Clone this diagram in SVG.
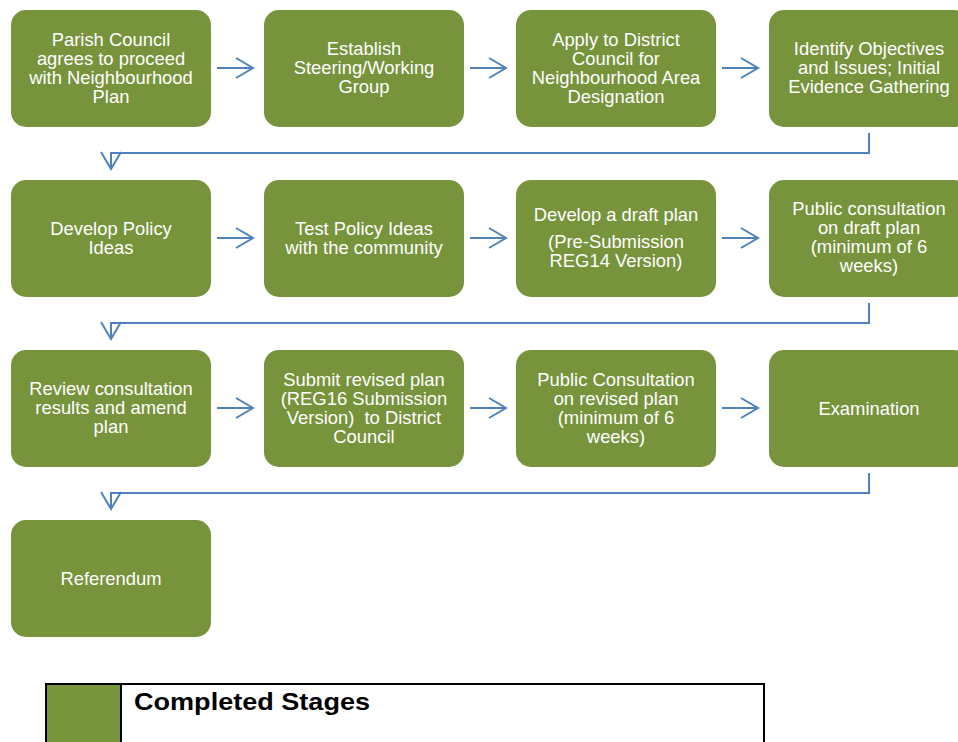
<svg xmlns="http://www.w3.org/2000/svg" width="958" height="742" viewBox="0 0 958 742">
<style>
.node rect{fill:#77933C;}
.node text{fill:#FFFFFF;font-family:"Liberation Sans",Arial,sans-serif;font-size:18.4px;text-anchor:middle;}
.conn{fill:none;stroke:#4F81BD;stroke-width:2;}
.legend-text{font-family:"Liberation Sans",Arial,sans-serif;font-weight:bold;font-size:23px;fill:#000000;}
</style>
<defs>
<marker id="arrow" markerUnits="userSpaceOnUse" markerWidth="24" markerHeight="26" refX="17" refY="10" orient="auto" overflow="visible">
<path d="M0,0 L17,10 L0,20" fill="none" stroke="#4F81BD" stroke-width="2"/>
</marker>
</defs>
<rect x="0" y="0" width="958" height="742" fill="#FFFFFF"/>

<g id="connectors">
<path class="conn" d="M217,68 H253" marker-end="url(#arrow)"/>
<path class="conn" d="M470,68 H506" marker-end="url(#arrow)"/>
<path class="conn" d="M722,68 H758" marker-end="url(#arrow)"/>
<path class="conn" d="M869,133 V153 H111 V169" marker-end="url(#arrow)"/>
<path class="conn" d="M217,238 H253" marker-end="url(#arrow)"/>
<path class="conn" d="M470,238 H506" marker-end="url(#arrow)"/>
<path class="conn" d="M722,238 H758" marker-end="url(#arrow)"/>
<path class="conn" d="M869,303 V323 H111 V339" marker-end="url(#arrow)"/>
<path class="conn" d="M217,408 H253" marker-end="url(#arrow)"/>
<path class="conn" d="M470,408 H506" marker-end="url(#arrow)"/>
<path class="conn" d="M722,408 H758" marker-end="url(#arrow)"/>
<path class="conn" d="M869,473 V493 H111 V509" marker-end="url(#arrow)"/>
</g>

<g id="n1" class="node">
<rect x="11" y="10" width="200" height="117" rx="15"/>
<text x="111"><tspan x="111" y="46">Parish Council</tspan><tspan x="111" y="65">agrees to proceed</tspan><tspan x="111" y="84">with Neighbourhood</tspan><tspan x="111" y="103">Plan</tspan></text>
</g>
<g id="n2" class="node">
<rect x="264" y="10" width="200" height="117" rx="15"/>
<text x="364"><tspan x="364" y="55">Establish</tspan><tspan x="364" y="74">Steering/Working</tspan><tspan x="364" y="93">Group</tspan></text>
</g>
<g id="n3" class="node">
<rect x="516" y="10" width="200" height="117" rx="15"/>
<text x="616"><tspan x="616" y="46">Apply to District</tspan><tspan x="616" y="65">Council for</tspan><tspan x="616" y="84">Neighbourhood Area</tspan><tspan x="616" y="103">Designation</tspan></text>
</g>
<g id="n4" class="node">
<rect x="769" y="10" width="200" height="117" rx="15"/>
<text x="869"><tspan x="869" y="55">Identify Objectives</tspan><tspan x="869" y="74">and Issues; Initial</tspan><tspan x="869" y="93">Evidence Gathering</tspan></text>
</g>

<g id="n5" class="node">
<rect x="11" y="180" width="200" height="117" rx="15"/>
<text x="111"><tspan x="111" y="235">Develop Policy</tspan><tspan x="111" y="254">Ideas</tspan></text>
</g>
<g id="n6" class="node">
<rect x="264" y="180" width="200" height="117" rx="15"/>
<text x="364"><tspan x="364" y="235">Test Policy Ideas</tspan><tspan x="364" y="254">with the community</tspan></text>
</g>
<g id="n7" class="node">
<rect x="516" y="180" width="200" height="117" rx="15"/>
<text x="616"><tspan x="616" y="221">Develop a draft plan</tspan><tspan x="616" y="248">(Pre-Submission</tspan><tspan x="616" y="267">REG14 Version)</tspan></text>
</g>
<g id="n8" class="node">
<rect x="769" y="180" width="200" height="117" rx="15"/>
<text x="869"><tspan x="869" y="215">Public consultation</tspan><tspan x="869" y="234">on draft plan</tspan><tspan x="869" y="253">(minimum of 6</tspan><tspan x="869" y="272">weeks)</tspan></text>
</g>

<g id="n9" class="node">
<rect x="11" y="350" width="200" height="117" rx="15"/>
<text x="111"><tspan x="111" y="395">Review consultation</tspan><tspan x="111" y="414">results and amend</tspan><tspan x="111" y="433">plan</tspan></text>
</g>
<g id="n10" class="node">
<rect x="264" y="350" width="200" height="117" rx="15"/>
<text x="364" xml:space="preserve"><tspan x="364" y="386">Submit revised plan</tspan><tspan x="364" y="405">(REG16 Submission</tspan><tspan x="364" y="424">Version)  to District</tspan><tspan x="364" y="443">Council</tspan></text>
</g>
<g id="n11" class="node">
<rect x="516" y="350" width="200" height="117" rx="15"/>
<text x="616"><tspan x="616" y="386">Public Consultation</tspan><tspan x="616" y="405">on revised plan</tspan><tspan x="616" y="424">(minimum of 6</tspan><tspan x="616" y="443">weeks)</tspan></text>
</g>
<g id="n12" class="node">
<rect x="769" y="350" width="200" height="117" rx="15"/>
<text x="869" y="415">Examination</text>
</g>

<g id="n13" class="node">
<rect x="11" y="520" width="200" height="117" rx="15"/>
<text x="111" y="585">Referendum</text>
</g>

<g id="legend">
<rect x="47" y="685" width="73" height="60" fill="#77933C"/>
<rect x="46" y="684" width="718" height="70" fill="none" stroke="#000000" stroke-width="2"/>
<line x1="121" y1="684" x2="121" y2="742" stroke="#000000" stroke-width="2"/>
<text class="legend-text" x="134" y="710" textLength="236" lengthAdjust="spacingAndGlyphs">Completed Stages</text>
</g>
</svg>
